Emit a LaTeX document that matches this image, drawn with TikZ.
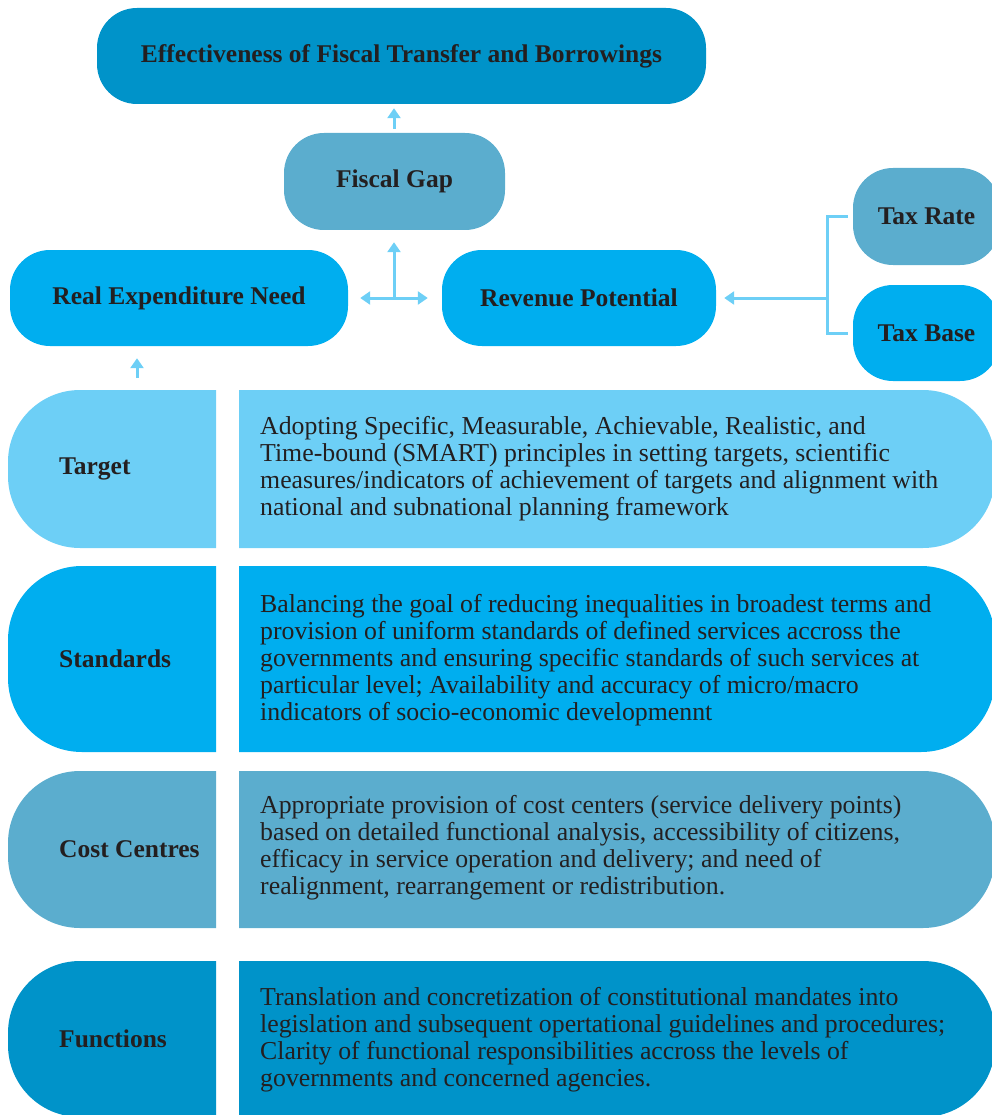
\documentclass[tikz,border=0pt]{standalone}
\usepackage{fontspec}
\setmainfont{Liberation Serif}
\usetikzlibrary{arrows.meta,calc}
\definecolor{cdark}{HTML}{0093C9}
\definecolor{cmid}{HTML}{00AEEF}
\definecolor{cgrey}{HTML}{5BADCE}
\definecolor{clight}{HTML}{6DCFF6}
\definecolor{carrow}{HTML}{6DCFF6}
\definecolor{ctext}{HTML}{231F20}
\tikzset{
  box/.style={rounded corners=40pt, inner sep=0pt, text=ctext,
    font=\bfseries\fontsize{25.5}{28}\selectfont},
  conn/.style={draw=carrow, line width=3pt},
  arr/.style={conn, -{Triangle[width=13pt,length=10pt]}},
  lbl/.style={anchor=west, inner sep=0pt, text=ctext,
    font=\bfseries\fontsize{25.5}{28}\selectfont},
  body/.style={anchor=west, inner sep=0pt, text=ctext, align=left,
    font=\fontsize{25.8}{27}\selectfont},
}
\newcommand{\rowshape}[4]{% color, top, bottom, radius
  \fill[#1] (216,#2) [rounded corners=#4] -- (8,#2) -- (8,#3) [sharp corners] -- (216,#3) -- cycle;
  \fill[#1] (239,#2) [rounded corners=#4] -- (995,#2) -- (995,#3) [sharp corners] -- (239,#3) -- cycle;
}
\begin{document}
\begin{tikzpicture}[x=1pt,y=-1pt]
\clip (0,0) rectangle (992,1115);
\useasboundingbox (0,0) rectangle (992,1115);

% top boxes
\node[box, fill=cdark, minimum width=609pt, minimum height=96pt] (eff) at (401.5,56) {Effectiveness of Fiscal Transfer and Borrowings};
\node[box, fill=cgrey, minimum width=221pt, minimum height=97pt] (fg) at (394.5,181.5) {Fiscal Gap};
\node[box, fill=cmid, minimum width=338pt, minimum height=96pt] (ren) at (179,298) {Real Expenditure Need};
\node[box, fill=cmid, minimum width=274pt, minimum height=96pt] (rp) at (579,298) {Revenue Potential};
\node[box, fill=cgrey, minimum width=147pt, minimum height=97pt] (tr) at (926.5,216.5) {Tax Rate};
\node[box, fill=cmid, minimum width=147pt, minimum height=96pt] (tb) at (926.5,333) {Tax Base};

% connectors
\coordinate (j) at (394,298);
\draw[arr] ([yshift=4pt]fg.north -| j) -- ([yshift=-4pt]eff.south -| j);
\draw[arr] (j) -- ([xshift=12pt]ren.east);
\draw[arr] (j) -- ([xshift=-14pt]rp.west);
\draw[arr] (j) -- ([yshift=-12pt]fg.south -| j);
\coordinate (bj) at (827,298);
\draw[conn] ([xshift=-5pt]tr.west) -| (bj) |- ([xshift=-5pt]tb.west);
\draw[arr] (bj) -- ([xshift=8pt]rp.east);
\coordinate (tg) at (137,390);
\draw[arr] ([yshift=12pt]tg) -- ([yshift=-12pt]ren.south -| tg);

% rows
\rowshape{clight}{390}{548}{72pt}
\rowshape{cmid}{566}{752}{74pt}
\rowshape{cgrey}{771}{928}{72pt}
\rowshape{cdark}{961}{1117}{72pt}

\node[lbl] (t1) at (59,469) {Target};
\node[lbl] (t2) at (59,659) {Standards};
\node[lbl] (t3) at (59,849) {Cost Centres};
\node[lbl] (t4) at (59,1039) {Functions};

\node[body] (d1) at (260,469) {Adopting Specific, Measurable, Achievable, Realistic, and\\Time-bound (SMART) principles in setting targets, scientific\\measures/indicators of achievement of targets and alignment with\\national and subnational planning framework};
\node[body] (d2) at (260,660) {Balancing the goal of reducing inequalities in broadest terms and\\provision of uniform standards of defined services accross the\\governments and ensuring specific standards of such services at\\particular level; Availability and accuracy of micro/macro\\indicators of socio-economic developmennt};
\node[body] (d3) at (260,848) {Appropriate provision of cost centers (service delivery points)\\based on detailed functional analysis, accessibility of citizens,\\efficacy in service operation and delivery; and need of\\realignment, rearrangement or redistribution.};
\node[body] (d4) at (260,1040) {Translation and concretization of constitutional mandates into\\legislation and subsequent opertational guidelines and procedures;\\Clarity of functional responsibilities accross the levels of\\governments and concerned agencies.};
\end{tikzpicture}
\end{document}
